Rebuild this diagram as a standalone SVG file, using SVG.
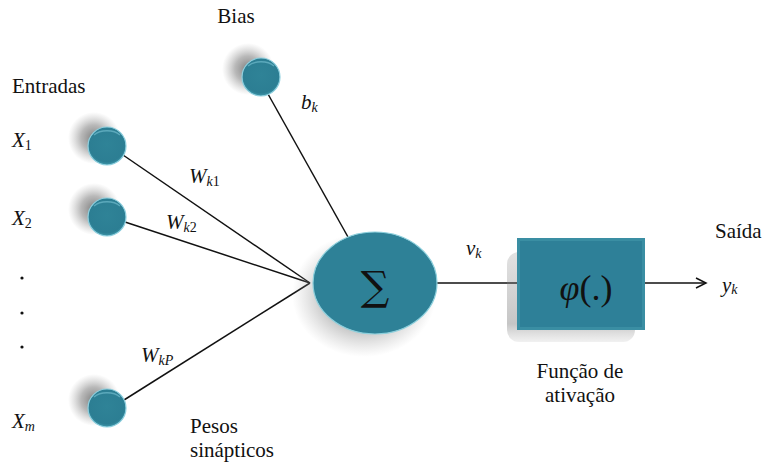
<svg xmlns="http://www.w3.org/2000/svg" width="765" height="466" viewBox="0 0 765 466">
<defs>
<radialGradient id="ballfill" cx="0.5" cy="0.45" r="0.55">
<stop offset="0" stop-color="#2f8397"/>
<stop offset="0.85" stop-color="#2c7e93"/>
<stop offset="1" stop-color="#3f98ab"/>
</radialGradient>
<radialGradient id="shadow">
<stop offset="0" stop-color="#6e6e6e" stop-opacity="0.9"/>
<stop offset="0.5" stop-color="#8a8a8a" stop-opacity="0.6"/>
<stop offset="1" stop-color="#aaaaaa" stop-opacity="0"/>
</radialGradient>
<linearGradient id="boxshadow" x1="0" y1="0" x2="0" y2="1">
<stop offset="0" stop-color="#888" stop-opacity="0.35"/>
<stop offset="0.8" stop-color="#777" stop-opacity="0.6"/>
<stop offset="1" stop-color="#999" stop-opacity="0.2"/>
</linearGradient>
</defs>
<g id="connectors" stroke="#111" stroke-width="1.5" fill="none">
<line x1="123" y1="155" x2="310" y2="283"/>
<line x1="125" y1="222" x2="310" y2="283"/>
<line x1="124" y1="400" x2="310" y2="283"/>
<line x1="268" y1="94" x2="348" y2="237"/>
<line x1="437" y1="283" x2="517" y2="283"/>
<line x1="645" y1="283" x2="706" y2="283"/>
<path d="M696,278 L706,283 L696,288"/>
</g>
<g id="bias">
<circle cx="248" cy="69" r="26" fill="url(#shadow)"/>
<circle cx="261" cy="77" r="19" fill="url(#ballfill)" stroke="#8fd0df" stroke-width="1.2"/>
<path d="M248,66 A16,10 0 0 1 274,66" fill="none" stroke="#7cc5d6" stroke-width="1.5" opacity="0.6"/>
</g>
<g id="x1">
<circle cx="94" cy="138" r="26" fill="url(#shadow)"/>
<circle cx="107" cy="146" r="19" fill="url(#ballfill)" stroke="#8fd0df" stroke-width="1.2"/>
<path d="M94,135 A16,10 0 0 1 120,135" fill="none" stroke="#7cc5d6" stroke-width="1.5" opacity="0.6"/>
</g>
<g id="x2">
<circle cx="94" cy="209" r="26" fill="url(#shadow)"/>
<circle cx="107" cy="217" r="19" fill="url(#ballfill)" stroke="#8fd0df" stroke-width="1.2"/>
<path d="M94,206 A16,10 0 0 1 120,206" fill="none" stroke="#7cc5d6" stroke-width="1.5" opacity="0.6"/>
</g>
<g id="xm">
<circle cx="94" cy="400" r="26" fill="url(#shadow)"/>
<circle cx="107" cy="408" r="19" fill="url(#ballfill)" stroke="#8fd0df" stroke-width="1.2"/>
<path d="M94,397 A16,10 0 0 1 120,397" fill="none" stroke="#7cc5d6" stroke-width="1.5" opacity="0.6"/>
</g>
<g id="sum">
<ellipse cx="364" cy="295" rx="72" ry="62" fill="url(#shadow)"/>
<ellipse cx="375" cy="283" rx="62" ry="51" fill="#2e8197" stroke="#8ccfdc" stroke-width="1.2"/>
<text x="375" y="300" text-anchor="middle" font-family="'DejaVu Serif', serif" font-size="40" fill="#111">&#8721;</text>
</g>
<g id="phi">
<rect x="507" y="252" width="128" height="90" rx="12" fill="url(#boxshadow)" opacity="0.7"/>
<rect x="517" y="238" width="128" height="92" fill="#3a8ea3"/>
<rect x="520" y="241" width="122" height="86" fill="#2e8098"/>
<text x="586" y="300" text-anchor="middle" font-family="'Liberation Serif', serif" font-size="36" fill="#111"><tspan font-style="italic">&#966;</tspan>(.)</text>
</g>
<g id="labels" fill="#111">
<text x="236" y="23" text-anchor="middle" font-family="'Liberation Serif', serif" font-size="21">Bias</text>
<text x="12" y="93" font-family="'Liberation Serif', serif" font-size="21">Entradas</text>
<text x="12" y="147" font-family="'Liberation Serif', serif" font-size="21" font-style="italic">X<tspan font-size="14" font-style="normal" dy="3">1</tspan></text>
<text x="12" y="225" font-family="'Liberation Serif', serif" font-size="21" font-style="italic">X<tspan font-size="14" font-style="normal" dy="3">2</tspan></text>
<text x="12" y="428" font-family="'Liberation Serif', serif" font-size="21" font-style="italic">X<tspan font-size="14" dy="3">m</tspan></text>
<circle cx="22" cy="278" r="1.6"/>
<circle cx="22" cy="313" r="1.6"/>
<circle cx="22" cy="347" r="1.6"/>
<text x="189" y="183" font-family="'Liberation Serif', serif" font-size="21" font-style="italic">W<tspan font-size="14" dy="3">k</tspan><tspan font-size="14" font-style="normal">1</tspan></text>
<text x="166" y="229" font-family="'Liberation Serif', serif" font-size="21" font-style="italic">W<tspan font-size="14" dy="3">k</tspan><tspan font-size="14" font-style="normal">2</tspan></text>
<text x="141" y="362" font-family="'Liberation Serif', serif" font-size="21" font-style="italic">W<tspan font-size="14" dy="3">kP</tspan></text>
<text x="301" y="109" font-family="'Liberation Serif', serif" font-size="21" font-style="italic">b<tspan font-size="14" dy="3">k</tspan></text>
<text x="466" y="255" font-family="'Liberation Serif', serif" font-size="21" font-style="italic">v<tspan font-size="14" dy="3">k</tspan></text>
<text x="715" y="238" font-family="'Liberation Serif', serif" font-size="21">Sa&#237;da</text>
<text x="722" y="292" font-family="'Liberation Serif', serif" font-size="21" font-style="italic">y<tspan font-size="14" dy="2">k</tspan></text>
<text x="580" y="378" text-anchor="middle" font-family="'Liberation Serif', serif" font-size="21">Fun&#231;&#227;o de</text>
<text x="580" y="402" text-anchor="middle" font-family="'Liberation Serif', serif" font-size="21">ativa&#231;&#227;o</text>
<text x="190" y="433" font-family="'Liberation Serif', serif" font-size="21">Pesos</text>
<text x="190" y="457" font-family="'Liberation Serif', serif" font-size="21">sin&#225;pticos</text>
</g>
</svg>
